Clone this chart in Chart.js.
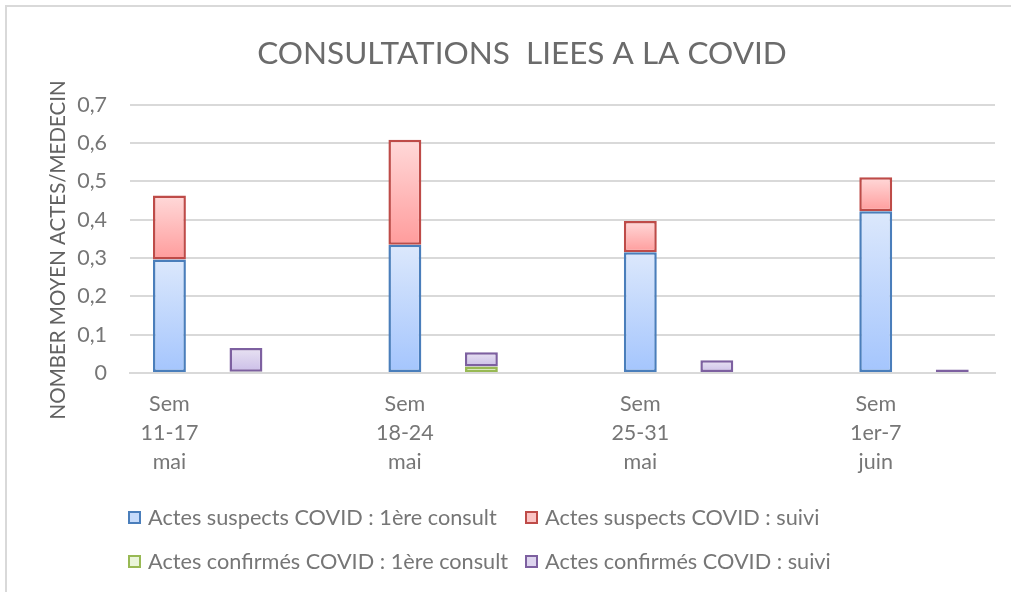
<!DOCTYPE html>
<html lang="fr">
<head>
<meta charset="utf-8">
<title>Consultations liées à la COVID</title>
<script src="https://cdn.jsdelivr.net/npm/chart.js@4.4.1/dist/chart.umd.min.js"></script>
<style>
  html, body { margin: 0; padding: 0; background: #fff; overflow: hidden; }
  .frame { position: relative; width: 1011px; height: 592px; font-family: Lato, "Open Sans", sans-serif; }
  .frame::before { content: ''; position: absolute; left: 5px; top: 5px; right: -10px; bottom: -10px;
                   border-top: 2px solid #d9d9d9; border-left: 2px solid #d9d9d9; }
  #covidChart { position: absolute; left: 0; top: 0; }
  .legend { position: absolute; left: 128px; top: 495px; display: grid;
            grid-template-columns: 397px auto; grid-auto-rows: 44px; }
  .legend .item { display: flex; align-items: center; font-size: 21.7px; color: #767676; white-space: nowrap; }
  .legend .box { width: 13px; height: 13px; box-sizing: border-box; border: 2px solid; margin-right: 7px; }
</style>
</head>
<body>
<div class="frame">
  <canvas id="covidChart" width="1011" height="592"></canvas>
  <div class="legend" id="legend"></div>
</div>
<script>
// weeks on the x axis (one label line per entry)
const weeks = [
  ['Sem', '11-17', 'mai'],
  ['Sem', '18-24', 'mai'],
  ['Sem', '25-31', 'mai'],
  ['Sem', '1er-7', 'juin']
];

// mean number of acts per doctor
const suspectsFirst   = [0.296, 0.335, 0.315, 0.422];
const suspectsFollow  = [0.167, 0.274, 0.082, 0.089];
const confirmedFirst  = [0.003, 0.017, 0, 0];
const confirmedFollow = [0.062, 0.037, 0.033, 0.009];

const yTicks = [0, 0.1, 0.2, 0.3, 0.4, 0.5, 0.6, 0.7];

const CAT_PCT = 0.65;
const BAR_PCT = 0.43;
const FONT = 'Lato';

// each bar segment gets its own light-to-deep vertical gradient
function fade(light, deep, values, below) {
  return (ctx) => {
    const y = ctx.chart.scales.y;
    if (ctx.type !== 'data' || !y) return deep;
    const i = ctx.dataIndex;
    const base = below ? below[i] : 0;
    const top = y.getPixelForValue(base + values[i]);
    const bottom = y.getPixelForValue(base);
    if (!(bottom - top > 0.5)) return light;
    const g = ctx.chart.ctx.createLinearGradient(0, top, 0, bottom);
    g.addColorStop(0, light);
    g.addColorStop(1, deep);
    return g;
  };
}

const series = [
  { label: 'Actes suspects COVID : 1ère consult', stack: 'suspects', values: suspectsFirst, below: null,
    light: '#dce8fc', deep: '#a4c5fd', line: '#4a7ebb', swatch: '#c6dbfb' },
  { label: 'Actes suspects COVID : suivi', stack: 'suspects', values: suspectsFollow, below: suspectsFirst,
    light: '#ffd9d9', deep: '#ff9c9c', line: '#be4b48', swatch: '#fbc4c4' },
  { label: 'Actes confirmés COVID : 1ère consult', stack: 'confirmes', values: confirmedFirst, below: null,
    light: '#f0f8e3', deep: '#dcefbf', line: '#98b954', swatch: '#eaf5da' },
  { label: 'Actes confirmés COVID : suivi', stack: 'confirmes', values: confirmedFollow, below: confirmedFirst,
    light: '#e8e2f2', deep: '#cbbee8', line: '#7d60a0', swatch: '#ddd4ee', minBarLength: 3 }
];

const datasets = series.map(s => ({
  label: s.label,
  stack: s.stack,
  data: s.values.map((v, i) => ({ x: i, y: v })),
  backgroundColor: fade(s.light, s.deep, s.values, s.below),
  borderColor: s.line,
  borderWidth: 2.5,
  borderSkipped: false,
  minBarLength: s.minBarLength || 0,
  categoryPercentage: CAT_PCT,
  barPercentage: BAR_PCT
}));

// the week label sits under the first bar of each group
const labelShift = CAT_PCT / 4;

// rotated value-axis title, drawn a little below the plot's middle
const yTitle = {
  id: 'yTitle',
  afterDraw(chart) {
    const { ctx, chartArea } = chart;
    ctx.save();
    ctx.translate(58, (chartArea.top + chartArea.bottom) / 2 + 11);
    ctx.rotate(-Math.PI / 2);
    ctx.font = '20.5px ' + FONT;
    ctx.fillStyle = '#626262';
    ctx.textAlign = 'center';
    ctx.textBaseline = 'middle';
    ctx.fillText('NOMBER MOYEN ACTES/MEDECIN', 0, 0);
    ctx.restore();
  }
};

new Chart(document.getElementById('covidChart'), {
  type: 'bar',
  data: { datasets },
  plugins: [yTitle],
  options: {
    responsive: false,
    animation: false,
    layout: { padding: { left: 49, right: 16, top: 0, bottom: 0 } },
    plugins: {
      legend: { display: false },
      tooltip: { enabled: false },
      title: {
        display: true,
        text: 'CONSULTATIONS  LIEES A LA COVID',
        color: '#6b6b6b',
        font: { family: FONT, size: 31.5, weight: 'normal', lineHeight: 1.2 },
        padding: { top: 35, bottom: 32 }
      }
    },
    scales: {
      x: {
        type: 'linear',
        stacked: true,
        offset: false,
        min: -0.33,
        max: 3.344,
        grid: { display: false, drawTicks: false },
        border: { display: true, color: '#d9d9d9', width: 2 },
        afterBuildTicks: (axis) => {
          axis.ticks = weeks.map((w, i) => ({ value: i - labelShift }));
        },
        afterFit: (axis) => { axis.height = 592 - 373; },
        ticks: {
          autoSkip: false,
          maxRotation: 0,
          padding: 17,
          color: '#767676',
          font: { family: FONT, size: 21.5, lineHeight: '29px' },
          callback: (value, index) => weeks[index]
        }
      },
      y: {
        stacked: true,
        min: 0,
        max: 0.7,
        grid: { color: '#d9d9d9', lineWidth: 2, drawTicks: false },
        border: { display: false },
        afterBuildTicks: (axis) => {
          axis.ticks = yTicks.map(v => ({ value: v }));
        },
        afterFit: (axis) => { axis.width = 81; },
        ticks: {
          padding: 23,
          color: '#767676',
          font: { family: FONT, size: 21.5 },
          callback: (v) => v === 0 ? '0' : v.toFixed(1).replace('.', ',')
        }
      }
    }
  }
});

// legend laid out in two aligned columns
const legend = document.getElementById('legend');
series.forEach(s => {
  const item = document.createElement('div');
  item.className = 'item';
  const box = document.createElement('span');
  box.className = 'box';
  box.style.borderColor = s.line;
  box.style.background = s.swatch;
  item.appendChild(box);
  item.appendChild(document.createTextNode(s.label));
  legend.appendChild(item);
});
</script>
</body>
</html>
